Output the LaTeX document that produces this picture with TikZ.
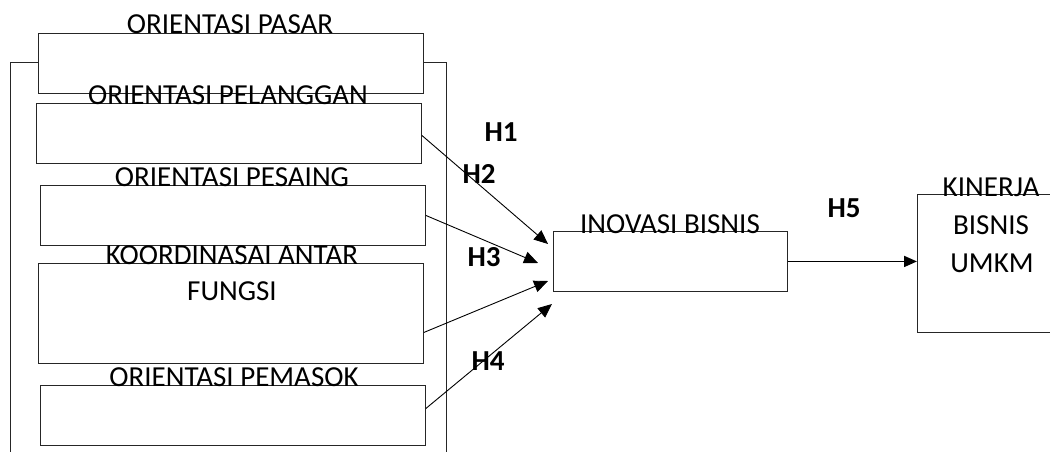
\documentclass[tikz,border=0pt]{standalone}
\usepackage{fontspec}
\setmainfont{Carlito}
\usetikzlibrary{arrows.meta,calc}

\tikzset{
  box/.style={draw=black!85, fill=white, line width=0.9pt, inner sep=0pt,
              anchor=north west},
  lbl/.style={anchor=base, inner sep=0pt,
              font=\fontsize{29}{35}\selectfont},
  hyp/.style={anchor=center, inner sep=0pt,
              font=\fontsize{29}{35}\selectfont\bfseries},
  link/.style={line width=0.9pt, -{Triangle[length=14pt,width=12pt]}},
  mainlink/.style={line width=1.8pt, -{Triangle[length=13pt,width=11pt]}}
}

\begin{document}
\begin{tikzpicture}[x=1pt, y=-1pt]
\useasboundingbox (0,0) rectangle (1050,452);
\clip (0,0) rectangle (1050,452);

% enclosing frame around the market-orientation constructs
\node[box, minimum width=436pt, minimum height=430pt] (frame) at (10,62) {};

% construct boxes
\node[box, minimum width=385pt, minimum height=60pt]  (b1) at (38,33)  {};
\node[box, minimum width=385pt, minimum height=60pt]  (b2) at (36,103) {};
\node[box, minimum width=385pt, minimum height=60pt]  (b3) at (40,185) {};
\node[box, minimum width=385pt, minimum height=100pt] (b4) at (38,263) {};
\node[box, minimum width=385pt, minimum height=60pt]  (b5) at (40,385) {};
\node[box, minimum width=234pt, minimum height=60pt]  (ino) at (553,231) {};
\node[box, minimum width=148pt, minimum height=138pt] (kin) at (917,194) {};

% box titles
\node[lbl] (t1) at (230,34)  {ORIENTASI PASAR};
\node[lbl] (t2) at (228,104) {ORIENTASI PELANGGAN};
\node[lbl] (t3) at (232,186) {ORIENTASI PESAING};
\node[lbl] (t4a) at (232,264) {KOORDINASAI ANTAR};
\node[lbl] (t4b) at (232,300) {FUNGSI};
\node[lbl] (t5) at (234,386) {ORIENTASI PEMASOK};
\node[lbl] (t6) at (670,233) {INOVASI BISNIS};
\node[lbl] (t7a) at (991,196) {KINERJA};
\node[lbl] (t7b) at (991,234) {BISNIS};
\node[lbl] (t7c) at (992,272) {UMKM};

% arrow end points at the innovation box
\coordinate (e1) at (548,244);
\coordinate (e2) at (538,263);
\coordinate (e3) at (548,281);
\coordinate (e4) at (552,304);

% hypothesised paths
\draw[link] ([yshift=-2pt]b2.east) -- (e1);
\draw[link] (b3.east) -- (e2);
\draw[link] ([yshift=-19pt]b4.east) -- (e3);
\draw[link] ([yshift=7pt]b5.east) -- (e4);
\draw[mainlink] (ino.east) -- (ino.east -| kin.west);

% hypothesis labels
\node[hyp] (h1) at (501,132) {H1};
\node[hyp] (h2) at (479,174) {H2};
\node[hyp] (h3) at (484,257) {H3};
\node[hyp] (h4) at (488,361) {H4};
\node[hyp] (h5) at (844,208) {H5};
\end{tikzpicture}
\end{document}
